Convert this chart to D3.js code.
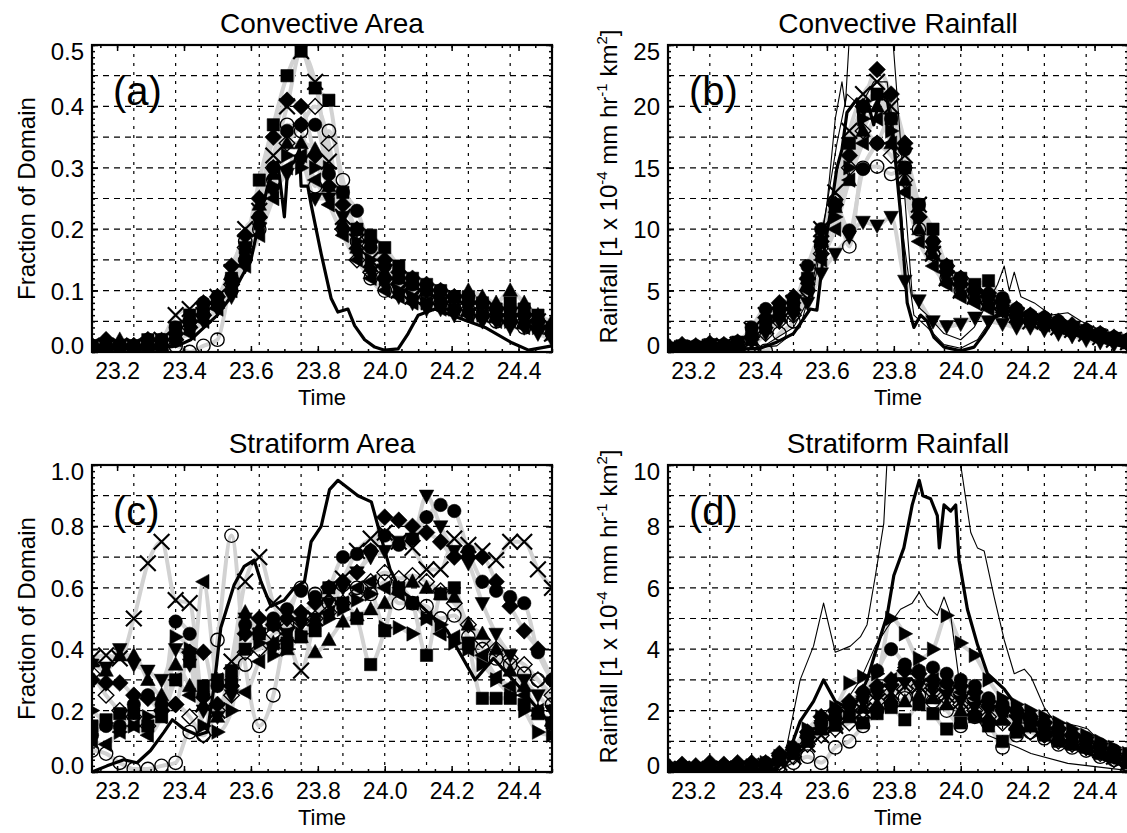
<!DOCTYPE html>
<html>
<head>
<meta charset="utf-8">
<script src="https://cdn.jsdelivr.net/npm/d3@7"></script>
<style>
body { margin: 0; background: #fff; }
svg text { font-family: "Liberation Sans", Arial, Helvetica, sans-serif; fill: #000; }
</style>
</head>
<body>
<svg id="chart" width="1127" height="833"></svg>
<script>
// sample times (days) for the model runs
var times = [23.125,23.167,23.208,23.25,23.292,23.333,23.375,23.417,23.458,23.5,23.542,23.583,23.625,23.667,23.708,23.75,23.792,23.833,23.875,23.917,23.958,24.0,24.042,24.083,24.125,24.167,24.208,24.25,24.292,24.333,24.375,24.417,24.458,24.5];
var timeLabels = [23.2,23.4,23.6,23.8,24.0,24.2,24.4];
var timeGrid = [23.25,23.375,23.5,23.625,23.75,23.875,24.0,24.125,24.25,24.375];

// (a) convective area
var caSquare = [0.01,0.01,0.01,0.01,0.02,0.02,0.04,0.06,0.07,0.08,0.12,0.17,0.28,0.37,0.45,0.49,0.43,0.41,0.26,0.20,0.19,0.17,0.14,0.12,0.11,0.10,0.09,0.09,0.08,0.07,0.08,0.07,0.06,0.04];
var caCross = [0.01,0.01,0.01,0.01,0.01,0.02,0.06,0.07,0.06,0.09,0.13,0.20,0.23,0.32,0.40,0.49,0.44,0.31,0.22,0.18,0.15,0.13,0.10,0.09,0.09,0.08,0.08,0.07,0.07,0.06,0.06,0.05,0.05,0.03];
var caDiamond = [0.01,0.02,0.01,0.01,0.02,0.01,0.03,0.05,0.08,0.09,0.14,0.19,0.25,0.35,0.41,0.40,0.32,0.27,0.24,0.20,0.18,0.15,0.13,0.12,0.11,0.10,0.09,0.08,0.08,0.07,0.06,0.06,0.05,0.04];
var caOpenDiamond = [0.01,0.01,0.01,0.01,0.01,0.01,0.02,0.04,0.06,0.08,0.11,0.17,0.22,0.30,0.34,0.37,0.40,0.34,0.20,0.15,0.13,0.12,0.11,0.10,0.09,0.09,0.08,0.07,0.07,0.06,0.06,0.05,0.05,0.03];
var caOpenCircle = [0.00,0.00,0.01,0.00,0.01,0.00,0.01,0.00,0.01,0.02,0.12,0.18,0.20,0.28,0.37,0.36,0.27,0.36,0.28,0.18,0.12,0.10,0.11,0.10,0.09,0.08,0.07,0.06,0.06,0.05,0.05,0.04,0.04,0.03];
var caCircle = [0.01,0.01,0.01,0.01,0.02,0.02,0.04,0.05,0.08,0.09,0.10,0.15,0.22,0.30,0.36,0.37,0.37,0.29,0.26,0.23,0.17,0.14,0.12,0.11,0.10,0.10,0.09,0.09,0.08,0.07,0.07,0.06,0.05,0.04];
var caUp = [0.01,0.01,0.02,0.01,0.01,0.02,0.03,0.05,0.07,0.08,0.12,0.16,0.24,0.29,0.34,0.34,0.33,0.27,0.21,0.17,0.14,0.13,0.12,0.11,0.10,0.09,0.09,0.10,0.09,0.08,0.10,0.08,0.06,0.05];
var caDown = [0.01,0.01,0.01,0.01,0.01,0.01,0.02,0.04,0.05,0.07,0.09,0.14,0.20,0.26,0.29,0.31,0.25,0.25,0.22,0.16,0.13,0.11,0.09,0.08,0.07,0.07,0.06,0.06,0.05,0.05,0.04,0.04,0.03,0.02];
var caRight = [0.01,0.01,0.01,0.01,0.01,0.01,0.02,0.04,0.06,0.08,0.11,0.15,0.21,0.27,0.32,0.30,0.30,0.30,0.20,0.18,0.15,0.12,0.10,0.09,0.08,0.08,0.07,0.07,0.06,0.06,0.05,0.05,0.04,0.03];
var caLeft = [0.01,0.01,0.01,0.01,0.01,0.01,0.02,0.03,0.05,0.07,0.10,0.14,0.19,0.25,0.30,0.32,0.28,0.24,0.19,0.15,0.12,0.10,0.09,0.08,0.08,0.07,0.07,0.06,0.06,0.05,0.05,0.04,0.04,0.03];
var caThickTimes = [23.125,23.2,23.3,23.38,23.42,23.46,23.5,23.54,23.57,23.6,23.62,23.65,23.68,23.7,23.71,23.73,23.745,23.75,23.77,23.78,23.81,23.84,23.86,23.89,23.91,23.94,23.97,24.0,24.04,24.07,24.1,24.15,24.2,24.3,24.38,24.43,24.5];
var caThick = [0.005,0.005,0.005,0.01,0.02,0.04,0.06,0.09,0.12,0.15,0.20,0.27,0.31,0.22,0.30,0.31,0.33,0.27,0.27,0.24,0.16,0.087,0.065,0.07,0.043,0.02,0.008,0.003,0.005,0.03,0.06,0.07,0.06,0.04,0.015,0.003,0.01];

// (b) convective rainfall
var crSquare = [0.3,0.5,0.4,0.6,0.5,0.8,1.5,2.5,3.5,4.0,6.0,9.0,12.0,17.0,20.0,21.0,19.0,15.0,12.0,10.0,7.0,6.0,5.5,5.8,4.0,3.0,2.8,2.5,2.2,2.0,1.6,1.4,1.1,0.8];
var crCross = [0.2,0.3,0.3,0.4,0.5,0.6,1.8,3.0,3.0,4.0,6.5,10,13,18,21,22,20,16,12,8,6,5,4.5,4,3.5,3,2.5,2.5,2,1.8,1.5,1.2,1,0.8];
var crDiamond = [0.5,0.6,0.5,0.7,0.6,0.8,1.2,2.8,4,4.5,6,9,12,16,20,23,21,17,11,9,6.5,5.5,5,4.8,4.2,3.5,3,2.8,2.5,2.2,1.8,1.5,1.2,1];
var crOpenDiamond = [0.1,0.2,0.2,0.3,0.3,0.3,0.5,1.5,2.5,3,5,8,12,15,18,17,16,14,11,8,7,6,5,4,3.5,3,2.6,2.3,2,1.7,1.5,1.3,1,0.7];
var crOpenCircle = [0.1,0.1,0.2,0.2,0.3,0.4,0.2,0.1,1.5,2.5,5,8.6,12.3,8.6,15,15.1,14.5,15,10,8,6,5,4.5,4,3.5,3,2.5,2.2,2,1.7,1.5,1.2,1,0.8];
var crCircle = [0.3,0.4,0.5,0.6,0.6,0.8,2,3.5,3.5,4,7,10,12,9.9,14.9,17,19,16.5,12,9,7,6,5,4.5,4.4,3.5,3,2.8,2.5,2,1.8,1.5,1.2,1];
var crUp = [0.2,0.3,0.4,0.4,0.5,0.6,1,2,3,3.5,6,9,11.8,14,18,20,17,14,10,8,6,5,4.5,4,4,3.4,3,2.5,2.2,2,1.5,1.3,1,0.7];
var crDown = [0.1,0.2,0.2,0.3,0.3,0.4,0.8,1.5,2.5,3,4,6.4,8,9.4,10.6,10.3,11,5.8,4.2,2.5,2.1,2.3,2.8,2.5,2.3,2,2,1.8,1.5,1.3,1,0.8,0.6,0.5];
var crRight = [0.2,0.3,0.3,0.4,0.4,0.5,1,2,3,4,5.5,8,11,15,19,21,18,15,11,8.5,6.5,5.5,4.5,4,3.8,3.2,2.8,2.6,2.3,2,1.7,1.4,1.1,0.9];
var crLeft = [0.2,0.2,0.3,0.3,0.4,0.5,1,2,3,3.5,5,7.5,10,14,17,19,17,13,9,7,5.5,4.5,4,3.5,3.2,2.8,2.5,2.2,2,1.8,1.5,1.2,1,0.8];
var crThickTimes = [23.125,23.2,23.3,23.4,23.45,23.5,23.55,23.57,23.59,23.61,23.63,23.645,23.66,23.69,23.7,23.72,23.74,23.76,23.78,23.8,23.82,23.84,23.86,23.88,23.9,23.92,23.95,24.0,24.04,24.07,24.1,24.15,24.2,24.25,24.3,24.35,24.4,24.45,24.5];
var crThick = [0.1,0.1,0.2,0.3,0.8,1.5,3.5,3.4,8,11.3,15,16.5,19.5,20.6,18,20.5,18.5,21,20.6,17,11.3,4,2,3,2.5,1.2,0.4,0.1,0.4,1.5,2.8,3.3,3,2.5,2,1.5,1,0.7,0.4];
var crThinTimes1 = [23.125,23.3,23.45,23.52,23.56,23.6,23.625,23.645,23.655,23.67,23.69,23.71,23.73,23.75,23.79,23.855,23.88,23.9,23.95,24.0,24.04,24.08,24.11,24.13,24.145,24.16,24.18,24.22,24.27,24.32,24.36,24.4,24.45,24.5];
var crThin1 = [0.1,0.2,0.5,2,6,12,19,22,20,27,30,26,31,27,28,4.6,3.5,3,1.5,1,2,4,5.5,7,5,6.5,4.5,4,3,3.2,2.5,2,1.5,1];
var crThinTimes2 = [23.125,23.4,23.5,23.56,23.6,23.63,23.66,23.7,23.74,23.78,23.8,23.83,23.86,23.9,23.95,24.0,24.05,24.1,24.15,24.2,24.3,24.4,24.5];
var crThin2 = [0.1,0.3,2,5,12,17,21,20,22,22,18,9,3,2,0.6,0.3,1,3,3.5,3.2,2.2,1.2,0.6];

// (c) stratiform area
var saSquare = [0.15,0.17,0.19,0.19,0.15,0.18,0.30,0.36,0.28,0.30,0.33,0.40,0.45,0.48,0.42,0.44,0.46,0.60,0.55,0.50,0.35,0.46,0.60,0.55,0.38,0.58,0.60,0.42,0.24,0.24,0.24,0.22,0.19,0.16];
var saCross = [0.37,0.38,0.37,0.50,0.68,0.75,0.56,0.55,0.22,0.20,0.36,0.62,0.70,0.55,0.45,0.33,0.50,0.58,0.63,0.72,0.76,0.78,0.75,0.73,0.66,0.66,0.76,0.74,0.72,0.69,0.75,0.75,0.66,0.60];
var saDiamond = [0.30,0.29,0.29,0.25,0.24,0.20,0.22,0.39,0.39,0.22,0.28,0.45,0.50,0.48,0.50,0.52,0.55,0.60,0.62,0.65,0.72,0.83,0.82,0.80,0.78,0.75,0.70,0.70,0.70,0.62,0.54,0.46,0.40,0.30];
var saOpenDiamond = [0.32,0.25,0.20,0.18,0.15,0.20,0.22,0.18,0.12,0.20,0.25,0.39,0.40,0.45,0.47,0.49,0.50,0.52,0.55,0.58,0.62,0.65,0.63,0.64,0.62,0.59,0.55,0.48,0.43,0.40,0.37,0.35,0.30,0.25];
var saOpenCircle = [0.07,0.06,0.03,0.01,0.01,0.02,0.03,0.13,0.12,0.43,0.77,0.35,0.15,0.25,0.48,0.60,0.58,0.55,0.61,0.60,0.58,0.62,0.55,0.55,0.54,0.50,0.51,0.44,0.40,0.37,0.35,0.32,0.30,0.22];
var saCircle = [0.12,0.15,0.15,0.22,0.25,0.22,0.49,0.45,0.25,0.28,0.30,0.48,0.45,0.50,0.53,0.59,0.57,0.60,0.70,0.71,0.72,0.77,0.74,0.76,0.83,0.87,0.85,0.72,0.62,0.59,0.57,0.55,0.39,0.30];
var saUp = [0.36,0.33,0.38,0.38,0.30,0.25,0.35,0.28,0.22,0.18,0.30,0.52,0.47,0.42,0.40,0.44,0.39,0.43,0.49,0.51,0.53,0.55,0.60,0.62,0.60,0.58,0.57,0.48,0.45,0.40,0.33,0.28,0.20,0.17];
var saDown = [0.35,0.34,0.40,0.35,0.33,0.30,0.40,0.35,0.20,0.18,0.25,0.50,0.45,0.40,0.45,0.48,0.50,0.55,0.60,0.65,0.70,0.72,0.75,0.76,0.90,0.80,0.72,0.68,0.55,0.45,0.38,0.30,0.25,0.20];
var saRight = [0.20,0.16,0.13,0.15,0.18,0.20,0.44,0.40,0.15,0.13,0.20,0.45,0.42,0.38,0.40,0.45,0.48,0.50,0.53,0.56,0.58,0.47,0.47,0.45,0.50,0.48,0.42,0.40,0.35,0.30,0.25,0.20,0.13,0.12];
var saLeft = [0.10,0.09,0.13,0.15,0.12,0.18,0.30,0.25,0.62,0.30,0.28,0.26,0.36,0.42,0.45,0.50,0.48,0.52,0.55,0.60,0.62,0.60,0.58,0.55,0.50,0.45,0.44,0.40,0.38,0.31,0.28,0.25,0.20,0.15];
var saThickTimes = [23.125,23.17,23.22,23.26,23.3,23.34,23.365,23.4,23.44,23.47,23.49,23.51,23.55,23.58,23.61,23.63,23.66,23.7,23.73,23.76,23.78,23.81,23.835,23.86,23.92,23.96,23.98,24.016,24.048,24.1,24.187,24.27,24.325,24.4,24.5];
var saThick = [0.0,0.02,0.04,0.03,0.07,0.13,0.17,0.14,0.12,0.13,0.28,0.47,0.61,0.67,0.69,0.62,0.54,0.56,0.60,0.62,0.75,0.80,0.92,0.95,0.90,0.88,0.80,0.66,0.59,0.55,0.46,0.30,0.37,0.28,0.15];

// (d) stratiform rainfall
var srSquare = [0.1,0.1,0.1,0.1,0.1,0.15,0.2,0.2,0.4,0.6,1.0,1.4,1.6,1.8,1.6,1.9,2.1,1.7,2.2,1.9,1.4,1.6,1.8,1.5,1.0,1.3,1.5,1.2,1.0,0.9,0.8,0.6,0.5,0.3];
var srCross = [0.05,0.1,0.05,0.1,0.1,0.1,0.1,0.2,0.3,0.5,0.9,1.2,1.5,1.8,2.0,2.3,2.6,2.8,2.8,2.5,2.5,2.3,2.1,1.9,1.8,1.6,1.5,1.4,1.2,1.0,0.9,0.7,0.5,0.3];
var srDiamond = [0.2,0.25,0.2,0.3,0.25,0.3,0.3,0.3,0.6,0.8,1.3,1.8,2.0,2.3,2.6,2.8,3.0,3.3,3.2,3.0,2.9,2.8,2.6,2.3,2.1,2.0,1.8,1.6,1.4,1.2,1.0,0.8,0.6,0.4];
var srOpenDiamond = [0.1,0.1,0.1,0.1,0.15,0.1,0.15,0.2,0.3,0.5,0.9,1.2,1.4,1.6,2.0,2.3,2.6,2.7,2.8,2.6,2.4,2.2,2.0,1.8,1.6,1.4,1.3,1.2,1.0,0.9,0.8,0.6,0.4,0.2];
var srOpenCircle = [0.05,0.05,0.05,0.1,0.05,0.1,0.1,0.1,0.2,0.3,0.5,0.3,0.8,1.0,1.5,2.0,2.2,2.4,2.5,2.3,2.0,1.5,1.8,1.6,0.8,1.2,1.3,1.1,0.9,0.8,0.7,0.5,0.4,0.2];
var srCircle = [0.15,0.2,0.15,0.2,0.2,0.2,0.25,0.3,0.5,0.7,1.2,1.6,1.8,2.2,2.6,3.3,4.0,3.5,3.3,3.4,3.2,3.0,2.8,2.4,2.2,2.0,1.8,1.6,1.4,1.2,1.1,0.9,0.7,0.5];
var srUp = [0.1,0.1,0.1,0.1,0.15,0.15,0.2,0.2,0.4,0.6,1.0,1.4,1.5,1.9,2.1,2.2,2.4,2.3,2.5,2.4,2.2,2.0,1.9,1.8,1.7,1.6,1.5,1.3,1.1,1.0,0.9,0.7,0.5,0.3];
var srDown = [0.1,0.1,0.1,0.1,0.1,0.1,0.15,0.2,0.4,0.7,1.1,1.5,1.8,2.0,2.3,2.5,2.7,2.9,2.8,2.7,2.5,2.3,2.1,2.0,1.8,1.7,1.5,1.3,1.2,1.0,0.9,0.7,0.5,0.3];
var srRight = [0.1,0.1,0.1,0.15,0.1,0.15,0.2,0.3,0.5,0.8,1.4,1.8,2.1,2.9,3.1,3.2,5.0,4.5,3.7,4.0,5.1,4.2,3.8,3.0,2.4,2.2,2.0,1.8,1.6,1.4,1.2,1.0,0.8,0.6];
var srLeft = [0.1,0.1,0.1,0.1,0.1,0.1,0.2,0.2,0.4,0.7,1.2,1.6,1.7,2.1,2.4,2.7,3.0,3.4,3.2,3.0,2.8,2.6,2.4,2.2,2.0,1.8,1.6,1.4,1.2,1.0,0.9,0.7,0.5,0.3];
var srThickTimes = [23.125,23.3,23.45,23.49,23.52,23.56,23.59,23.625,23.66,23.69,23.72,23.745,23.78,23.8,23.83,23.855,23.876,23.887,23.91,23.93,23.936,23.95,23.97,23.985,23.995,24.02,24.05,24.08,24.13,24.17,24.21,24.27,24.32,24.38,24.43,24.5];
var srThick = [0.05,0.05,0.1,0.74,1.65,2.3,3.0,2.3,2.1,2.3,3.0,3.9,5.1,6.4,7.3,8.7,9.5,9.0,8.9,8.35,7.3,8.7,8.5,8.7,6.9,5.3,4.15,3.2,2.7,2.1,1.65,1.3,0.97,0.6,0.4,0.17];
var srThinTimes1 = [23.125,23.3,23.45,23.47,23.52,23.56,23.59,23.625,23.67,23.7,23.72,23.745,23.77,23.78,23.82,23.87,23.95,24.0,24.03,24.05,24.07,24.1,24.13,24.16,24.19,24.21,24.25,24.28,24.35,24.38,24.43,24.5];
var srThin1 = [0.05,0.05,0.1,0.3,3.0,4.1,5.5,3.9,4.1,4.4,4.8,6.4,8.1,10.2,12.5,13.5,12.5,10.0,7.8,7.3,7.2,5.7,4.3,3.2,3.35,3.1,2.1,1.65,1.5,1.4,0.85,0.3];
var srThinTimes2 = [23.125,23.45,23.5,23.55,23.6,23.65,23.7,23.745,23.78,23.82,23.855,23.876,23.9,23.93,23.95,23.97,23.995,24.03,24.08,24.16,24.21,24.32,24.5];
var srThin2 = [0.05,0.05,0.3,1.0,2.0,2.2,3.0,4.1,4.7,5.3,5.5,5.85,5.4,5.1,5.7,5.1,3.0,2.1,1.2,0.85,0.6,0.28,0.05];

// marker shapes, in the same order as the series lists below
var markerKinds = [
  {path: "M-5.5,-5.5H5.5V5.5H-5.5Z", fill: true},                  // filled square
  {path: "M-7,-7L7,7M-7,7L7,-7", fill: false, cross: true},         // X
  {path: "M0,-7.5L7.5,0L0,7.5L-7.5,0Z", fill: true},               // filled diamond
  {path: "M0,-7L7,0L0,7L-7,0Z", fill: false},                      // open diamond
  {path: "M6,0A6,6 0 1,1 -6,0A6,6 0 1,1 6,0Z", fill: false},       // open circle
  {path: "M6,0A6,6 0 1,1 -6,0A6,6 0 1,1 6,0Z", fill: true},        // filled circle
  {path: "M0,-7L6.5,5L-6.5,5Z", fill: true},                       // triangle up
  {path: "M0,7L6.5,-5L-6.5,-5Z", fill: true},                      // triangle down
  {path: "M7,0L-5,6.5L-5,-6.5Z", fill: true},                      // triangle right
  {path: "M-7,0L5,6.5L5,-6.5Z", fill: true}                        // triangle left
];

var panels = [
  {key: "a", title: "Convective Area", letter: "(a)", left: 92, top: 45, ymax: 0.5, yStep: 0.1, yGrid: 0.05, yMinor: 0.01, fmt: ".1f", rain: false,
   series: [caSquare, caCross, caDiamond, caOpenDiamond, caOpenCircle, caCircle, caUp, caDown, caRight, caLeft],
   thick: [caThickTimes, caThick], thin: []},
  {key: "b", title: "Convective Rainfall", letter: "(b)", left: 668, top: 45, ymax: 25, yStep: 5, yGrid: 2.5, yMinor: 0.5, fmt: "d", rain: true,
   series: [crSquare, crCross, crDiamond, crOpenDiamond, crOpenCircle, crCircle, crUp, crDown, crRight, crLeft],
   thick: [crThickTimes, crThick], thin: [[crThinTimes1, crThin1], [crThinTimes2, crThin2]]},
  {key: "c", title: "Stratiform Area", letter: "(c)", left: 92, top: 465, ymax: 1.0, yStep: 0.2, yGrid: 0.1, yMinor: 0.02, fmt: ".1f", rain: false,
   series: [saSquare, saCross, saDiamond, saOpenDiamond, saOpenCircle, saCircle, saUp, saDown, saRight, saLeft],
   thick: [saThickTimes, saThick], thin: []},
  {key: "d", title: "Stratiform Rainfall", letter: "(d)", left: 668, top: 465, ymax: 10, yStep: 2, yGrid: 1, yMinor: 0.2, fmt: "d", rain: true,
   series: [srSquare, srCross, srDiamond, srOpenDiamond, srOpenCircle, srCircle, srUp, srDown, srRight, srLeft],
   thick: [srThickTimes, srThick], thin: [[srThinTimes1, srThin1], [srThinTimes2, srThin2]]}
];

var svg = d3.select("#chart");
var W = 460, H = 307;

panels.forEach(function(p) {
  var bottom = p.top + H;
  var x = d3.scaleLinear().domain([23.125, 24.5]).range([p.left, p.left + W]);
  var y = d3.scaleLinear().domain([0, p.ymax]).range([bottom, p.top]);
  var eps = p.ymax / 1000;

  svg.append("clipPath").attr("id", "clip-" + p.key)
    .append("rect").attr("x", p.left).attr("y", p.top).attr("width", W).attr("height", H);

  // dashed grid
  var grid = svg.append("g");
  grid.selectAll(".vg").data(timeGrid).enter().append("line")
    .attr("x1", function(d) { return x(d); }).attr("x2", function(d) { return x(d); })
    .attr("y1", p.top).attr("y2", bottom)
    .attr("stroke", "#000").attr("stroke-width", 1.2).attr("stroke-dasharray", "3,6");
  grid.selectAll(".hg").data(d3.range(p.yGrid, p.ymax - eps, p.yGrid)).enter().append("line")
    .attr("x1", p.left).attr("x2", p.left + W)
    .attr("y1", function(d) { return y(d); }).attr("y2", function(d) { return y(d); })
    .attr("stroke", "#000").attr("stroke-width", 1.2).attr("stroke-dasharray", "6,5");

  var plot = svg.append("g").attr("clip-path", "url(#clip-" + p.key + ")");

  // light grey traces behind the markers
  var grey = d3.line().curve(d3.curveMonotoneX)
    .x(function(d, i) { return x(times[i]); })
    .y(function(d) { return y(d); });
  p.series.forEach(function(s) {
    plot.append("path").datum(s).attr("d", grey)
      .attr("fill", "none").attr("stroke", "#d2d2d2").attr("stroke-width", 4);
  });

  // markers
  p.series.forEach(function(s, si) {
    var k = markerKinds[si];
    plot.append("g").selectAll("path").data(s).enter().append("path")
      .attr("transform", function(d, i) { return "translate(" + x(times[i]) + "," + y(d) + ") scale(1.12)"; })
      .attr("d", k.path)
      .attr("fill", k.fill ? "#000" : "none")
      .attr("stroke", "#000")
      .attr("stroke-width", k.cross ? 1.9 : (k.fill ? 0.5 : 1.2));
  });

  // black lines
  function drawLine(pair, width) {
    var ln = d3.line()
      .x(function(d, i) { return x(pair[0][i]); })
      .y(function(d) { return y(d); });
    plot.append("path").datum(pair[1]).attr("d", ln)
      .attr("fill", "none").attr("stroke", "#000").attr("stroke-width", width)
      .attr("stroke-linejoin", "round");
  }
  p.thin.forEach(function(pair) { drawLine(pair, 1.1); });
  drawLine(p.thick, 3.2);

  // axes
  function clean(g) {
    g.attr("font-size", null).attr("font-family", null);
    g.select(".domain").remove();
    g.selectAll("line").attr("stroke", "#000").attr("stroke-width", 1.5);
    g.selectAll("text").style("font-size", "23px");
  }
  svg.append("g").attr("transform", "translate(0," + bottom + ")")
    .call(d3.axisBottom(x).tickValues(timeLabels).tickSize(-6).tickPadding(11).tickFormat(d3.format(".1f")))
    .call(clean);
  svg.append("g").attr("transform", "translate(0," + bottom + ")")
    .call(d3.axisBottom(x).tickValues(d3.range(23.15, 24.5, 0.05)).tickSize(-3).tickFormat(""))
    .call(clean);
  svg.append("g").attr("transform", "translate(0," + p.top + ")")
    .call(d3.axisTop(x).tickValues(timeLabels).tickSize(-6).tickFormat(""))
    .call(clean);
  svg.append("g").attr("transform", "translate(0," + p.top + ")")
    .call(d3.axisTop(x).tickValues(d3.range(23.15, 24.5, 0.05)).tickSize(-3).tickFormat(""))
    .call(clean);

  var yTicks = d3.range(0, p.ymax + eps, p.yStep);
  var yLeft = svg.append("g").attr("transform", "translate(" + p.left + ",0)")
    .call(d3.axisLeft(y).tickValues(yTicks).tickSize(-6).tickPadding(8).tickFormat(d3.format(p.fmt)))
    .call(clean);
  yLeft.selectAll("text").style("font-size", "24px").attr("dy", function(d, i) {
    if (i === 0) return "0.05em";
    if (i === yTicks.length - 1) return "0.6em";
    return "0.35em";
  });
  svg.append("g").attr("transform", "translate(" + p.left + ",0)")
    .call(d3.axisLeft(y).tickValues(d3.range(0, p.ymax + eps, p.yMinor)).tickSize(-3).tickFormat(""))
    .call(clean);
  svg.append("g").attr("transform", "translate(" + (p.left + W) + ",0)")
    .call(d3.axisRight(y).tickValues(yTicks).tickSize(-6).tickFormat(""))
    .call(clean);
  svg.append("g").attr("transform", "translate(" + (p.left + W) + ",0)")
    .call(d3.axisRight(y).tickValues(d3.range(0, p.ymax + eps, p.yMinor)).tickSize(-3).tickFormat(""))
    .call(clean);

  // frame
  svg.append("rect").attr("x", p.left).attr("y", p.top).attr("width", W).attr("height", H)
    .attr("fill", "none").attr("stroke", "#000").attr("stroke-width", 2.2);

  // texts
  svg.append("text").attr("x", p.left + W / 2).attr("y", p.top - 12)
    .attr("text-anchor", "middle").style("font-size", "28px").text(p.title);
  svg.append("text").attr("x", p.left + W / 2).attr("y", bottom + 53)
    .attr("text-anchor", "middle").style("font-size", "22px").text("Time");
  svg.append("text").attr("x", p.left + 21).attr("y", p.top + 60)
    .style("font-size", "40px").text(p.letter);

  var cy = p.top + H / 2;
  if (!p.rain) {
    svg.append("text").attr("transform", "translate(" + (p.left - 57) + "," + cy + ") rotate(-90)")
      .attr("text-anchor", "middle").style("font-size", "24px").text("Fraction of Domain");
  } else {
    var t = svg.append("text").attr("transform", "translate(" + (p.left - 51) + "," + (cy - 12) + ") rotate(-90)")
      .attr("text-anchor", "middle").style("font-size", "24px");
    t.append("tspan").text("Rainfall [1 x 10");
    t.append("tspan").attr("dy", -10).style("font-size", "15px").text("-4");
    t.append("tspan").attr("dy", 10).text(" mm hr");
    t.append("tspan").attr("dy", -10).style("font-size", "15px").text("-1");
    t.append("tspan").attr("dy", 10).text(" km");
    t.append("tspan").attr("dy", -10).style("font-size", "15px").text("2");
    t.append("tspan").attr("dy", 10).text("]");
  }
});
</script>
</body>
</html>
